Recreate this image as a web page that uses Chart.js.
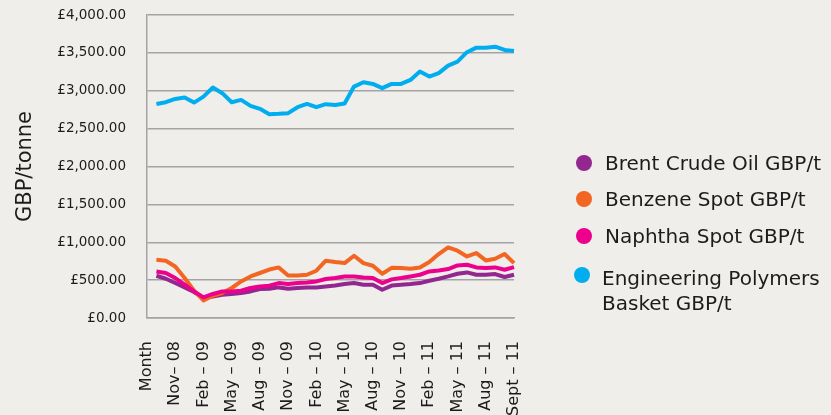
<!DOCTYPE html>
<html>
<head>
<meta charset="utf-8">
<script src="https://cdn.jsdelivr.net/npm/chart.js@4.4.0/dist/chart.umd.min.js"></script>
<style>
  html, body { margin: 0; padding: 0; background: #efeeea; }
  #wrap { position: relative; width: 831px; height: 415px; overflow: hidden; }
  #legend { position: absolute; left: 0; top: 0; font-family: "DejaVu Sans", sans-serif; font-size: 20px; color: #1c1c1c; }
  .item { position: absolute; line-height: 25px; width: 228px; }
  .dot { position: absolute; width: 16px; height: 16px; border-radius: 50%; }
</style>
</head>
<body>
<div id="wrap">
  <canvas id="myChart" width="831" height="415"></canvas>
  <div id="legend"></div>
</div>
<script>
// categories (only every third month is labelled on the axis)
var months = ["Month", "", "", "Nov\u2013 08", "", "", "Feb \u2013 09", "", "", "May \u2013 09", "", "",
  "Aug \u2013 09", "", "", "Nov \u2013 09", "", "", "Feb \u2013 10", "", "", "May \u2013 10", "", "",
  "Aug \u2013 10", "", "", "Nov \u2013 10", "", "", "Feb \u2013 11", "", "", "May \u2013 11", "", "",
  "Aug \u2013 11", "", "", "Sept \u2013 11"];

var seriesNames = ["Brent Crude Oil GBP/t", "Benzene Spot GBP/t", "Naphtha Spot GBP/t", "Engineering Polymers Basket GBP/t"];
var seriesColors = ["#92278f", "#f26522", "#ec008c", "#00aeef"];

var brent = [null, 558, 518, 462, 404, 343, 264, 285, 307, 317, 330, 351, 383, 385, 404, 386, 396, 404, 404, 417, 430,
  448, 461, 439, 439, 373, 428, 439, 448, 461, 492, 518, 549, 584, 602, 571, 571, 580, 541, 571];
var benzene = [null, 769, 756, 681, 528, 360, 232, 294, 330, 396, 483, 549, 594, 640, 668, 562, 562, 571, 624, 756, 739,
  725, 822, 725, 690, 584, 662, 659, 650, 668, 739, 844, 932, 888, 813, 857, 760, 782, 844, 725];
var naphtha = [null, 615, 594, 528, 439, 351, 272, 317, 351, 351, 360, 396, 417, 426, 461, 448, 461, 470, 483, 514, 528,
  549, 549, 536, 528, 461, 510, 528, 549, 571, 615, 628, 646, 694, 703, 668, 659, 668, 637, 672];
var polymers = [null, 2826, 2849, 2892, 2910, 2844, 2923, 3042, 2968, 2849, 2879, 2800, 2761, 2691, 2695, 2704, 2783, 2826,
  2783, 2823, 2813, 2831, 3055, 3113, 3090, 3034, 3090, 3090, 3143, 3253, 3187, 3232, 3332, 3385, 3509, 3569, 3569,
  3582, 3539, 3526];

var allSeries = [brent, benzene, naphtha, polymers];

var datasets = allSeries.map(function(vals, i) {
  return {
    label: seriesNames[i],
    data: vals,
    borderColor: seriesColors[i],
    backgroundColor: seriesColors[i],
    borderWidth: 4,
    pointRadius: 0,
    tension: 0,
    fill: false,
    borderJoinStyle: "round",
    order: allSeries.length - i   // later series on top, like the original
  };
});

function money(v) {
  return "\u00a3" + Number(v).toLocaleString("en-GB", {minimumFractionDigits: 2, maximumFractionDigits: 2});
}

var gridGrey = "#a4a4a4";

new Chart("myChart", {
  type: "line",
  data: { labels: months, datasets: datasets },
  options: {
    responsive: false,
    animation: false,
    layout: { padding: { top: 15, right: 317, left: 0, bottom: 0 } },
    plugins: { legend: { display: false }, tooltip: { enabled: false } },
    scales: {
      x: {
        offset: false,
        grid: { display: false, drawTicks: false },
        border: { color: gridGrey, width: 1.5 },
        ticks: {
          autoSkip: false, minRotation: 90, maxRotation: 90, padding: 23,
          color: "#1c1c1c", font: { family: "DejaVu Sans", size: 16 }
        },
        afterFit: function(s) {
          s.height = 97;
          s.paddingLeft = 0; s.paddingRight = 0; s.paddingTop = 0; s.paddingBottom = 0;
        }
      },
      y: {
        min: 0, max: 4000,
        grid: { color: gridGrey, lineWidth: 1.5, drawTicks: false },
        border: { color: gridGrey, width: 1.5 },
        ticks: {
          stepSize: 500, padding: 21, color: "#1c1c1c",
          font: { family: "DejaVu Sans", size: 13.5 },
          callback: function(v) { return money(v); }
        },
        title: {
          display: true, text: "GBP/tonne", color: "#1c1c1c",
          font: { family: "DejaVu Sans", size: 21 },
          padding: { top: 13, bottom: 0 }
        },
        afterFit: function(s) {
          s.width = 147;
          s.paddingTop = 0; s.paddingBottom = 0;
        }
      }
    }
  }
});

// html legend on the right
var legendTops = [150.6, 187.2, 223.9, 265.8];
var dotCentres = [[584, 162.7], [584, 199.3], [584, 236], [582, 275]];
var textLefts = [605, 605, 605, 602];
var legend = document.getElementById("legend");
seriesNames.forEach(function(name, i) {
  var dot = document.createElement("div");
  dot.className = "dot";
  dot.style.background = seriesColors[i];
  dot.style.left = (dotCentres[i][0] - 8) + "px";
  dot.style.top = (dotCentres[i][1] - 8) + "px";
  legend.appendChild(dot);
  var txt = document.createElement("div");
  txt.className = "item";
  txt.textContent = name;
  txt.style.left = textLefts[i] + "px";
  txt.style.top = legendTops[i] + "px";
  legend.appendChild(txt);
});
</script>
</body>
</html>
